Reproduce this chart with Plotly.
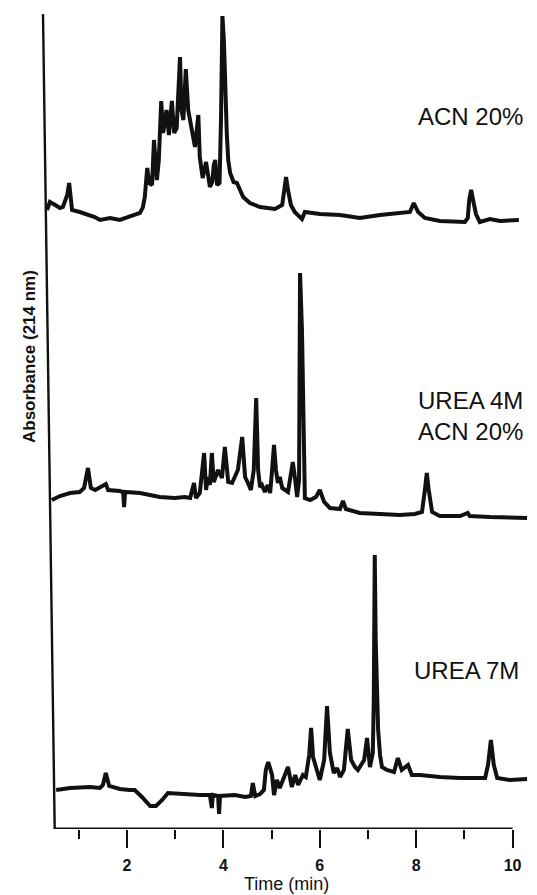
import plotly.graph_objects as go

# ---------------- data (retention time in min, absorbance in arbitrary units) -------------
t_acn = [0.34, 0.40, 0.51, 0.61, 0.67, 0.76, 0.80, 0.86, 1.02, 1.33, 1.44, 1.65, 1.85, 2.12, 2.27,
         2.33, 2.37, 2.42, 2.46, 2.52, 2.56, 2.62, 2.66, 2.71, 2.75, 2.79, 2.82, 2.87, 2.93, 2.98,
         3.03, 3.10, 3.13, 3.17, 3.22, 3.27, 3.34, 3.41, 3.48, 3.51, 3.57, 3.64, 3.72, 3.77, 3.80,
         3.83, 3.87, 3.92, 3.95, 3.98, 4.01, 4.03, 4.07, 4.10, 4.14, 4.21, 4.28, 4.41, 4.55, 4.76,
         4.97, 5.07, 5.22, 5.26, 5.30, 5.34, 5.40, 5.48, 5.63, 5.69, 6.00, 6.42, 6.83, 7.25, 7.66,
         7.87, 7.95, 8.04, 8.18, 8.49, 9.01, 9.07, 9.10, 9.14, 9.18, 9.24, 9.32, 9.53, 9.74, 10.13]
a_acn = [0, 8, 5, 2, 3, 15, 27, 0, -2, -7, -10, -8, -10, -5, -3,
         3, 13, 42, 27, 25, 70, 30, 50, 109, 77, 90, 100, 75, 109, 77,
         82, 153, 100, 90, 141, 100, 83, 63, 95, 53, 32, 48, 23, 28, 45,
         50, 25, 27, 90, 194, 170, 127, 77, 50, 37, 28, 27, 13, 7, 3,
         2, 1, 5, 20, 33, 20, 5, -2, -9, -2, -4, -5, -8, -5, -3,
         -2, 7, -2, -8, -11, -12, -8, 10, 20, 10, -4, -12, -9, -11, -10]

t_urea4 = [0.44, 0.61, 0.82, 1.02, 1.11, 1.19, 1.25, 1.34, 1.56, 1.61, 1.85, 1.92, 1.94, 1.96, 2.27,
           2.68, 2.99, 3.20, 3.31, 3.39, 3.43, 3.51, 3.60, 3.64, 3.68, 3.72, 3.76, 3.80, 3.89, 3.97,
           4.03, 4.10, 4.18, 4.30, 4.39, 4.45, 4.51, 4.57, 4.63, 4.68, 4.72, 4.76, 4.80, 4.86, 4.92,
           4.97, 5.01, 5.05, 5.09, 5.13, 5.17, 5.22, 5.34, 5.40, 5.44, 5.49, 5.53, 5.57, 5.59, 5.63,
           5.65, 5.67, 5.69, 5.80, 5.92, 6.00, 6.09, 6.21, 6.42, 6.48, 6.54, 6.83, 7.25, 7.66, 7.97,
           8.12, 8.18, 8.22, 8.26, 8.33, 8.49, 8.91, 9.07, 9.11, 9.53, 9.94, 10.30]
a_urea4 = [0, 4, 7, 8, 12, 32, 12, 10, 16, 10, 9, 8, -7, 8, 7,
           3, 2, 3, 2, 17, 2, 7, 47, 10, 23, 15, 47, 18, 30, 22,
           53, 18, 17, 30, 63, 23, 17, 10, 30, 102, 30, 13, 15, 8, 15,
           7, 30, 55, 30, 17, 23, 12, 8, 25, 38, 20, 3, 20, 227, 170,
           107, 30, 2, 0, 3, 10, -2, -8, -9, -1, -9, -13, -14, -15, -14,
           -12, 10, 27, 10, -12, -16, -16, -13, -16, -17, -18, -18]

t_urea7 = [0.53, 0.82, 1.23, 1.44, 1.50, 1.56, 1.63, 1.85, 2.06, 2.16, 2.31, 2.48, 2.60, 2.73, 2.85,
           3.10, 3.51, 3.72, 3.76, 3.78, 3.89, 3.91, 3.93, 4.24, 4.45, 4.57, 4.61, 4.66, 4.76, 4.84,
           4.88, 4.93, 5.01, 5.05, 5.11, 5.17, 5.28, 5.34, 5.42, 5.49, 5.55, 5.65, 5.71, 5.78, 5.82,
           5.86, 5.92, 6.00, 6.09, 6.15, 6.21, 6.29, 6.36, 6.42, 6.50, 6.54, 6.58, 6.65, 6.73, 6.79,
           6.92, 6.98, 7.04, 7.10, 7.12, 7.14, 7.16, 7.21, 7.25, 7.29, 7.39, 7.54, 7.62, 7.70, 7.77,
           7.83, 7.91, 8.08, 8.49, 8.91, 9.43, 9.49, 9.55, 9.61, 9.68, 9.94, 10.30]
a_urea7 = [0, 2, 3, 2, 5, 17, 4, 1, 0, 0, -7, -16, -16, -10, -3,
           -4, -5, -5, -18, -5, -6, -24, -6, -5, -7, -6, 7, -6, -4, 0,
           20, 28, 15, -5, 10, 2, 15, 23, 3, 15, 5, 15, 13, 35, 62,
           33, 23, 10, 30, 84, 37, 17, 22, 13, 20, 40, 61, 30, 23, 20,
           30, 52, 23, 37, 90, 235, 150, 60, 35, 23, 20, 18, 32, 20, 23,
           25, 15, 15, 13, 12, 12, 25, 50, 25, 12, 10, 11]

series_names = ["ACN 20%", "UREA 4M<br>ACN 20%", "UREA 7M"]
major_ticks = [2, 4, 6, 8, 10]
major_labels = ["2", "4", "6", "8", "10"]
minor_ticks = [1, 3, 5, 7, 9]

# ---------------- layout geometry -------------
W, H = 537, 895
L, R, T, B = 40, 7, 14, 66
PW, PH = W - L - R, H - T - B
PX_PER_MIN = 48.2
X0_PX = 30.6  # pixel of t = 0
x_range = [(L - X0_PX) / PX_PER_MIN, (W - R - X0_PX) / PX_PER_MIN]
y_range = [0, PH]
offsets = [619, 329, 39]


def xp(px):
    return (px - L) / PW


def yp(py):
    return 1 - (py - T) / PH


fig = go.Figure()
for tt, aa, off, nm in zip([t_acn, t_urea4, t_urea7], [a_acn, a_urea4, a_urea7], offsets, series_names):
    fig.add_trace(go.Scatter(x=tt, y=[v + off for v in aa], mode="lines",
                             line=dict(color="#111111", width=4), name=nm,
                             showlegend=False, hoverinfo="skip"))

# invisible trace so the minor-tick overlay axis is drawn
fig.add_trace(go.Scatter(x=[x_range[0]], y=[0], xaxis="x2", mode="lines",
                         line=dict(width=0), showlegend=False, hoverinfo="skip"))

sans = "Liberation Sans, Arial, sans-serif"

# axis lines (as in the scanned figure: bottom axis 0.5-10, slightly slanted left line)
fig.add_shape(type="line", xref="x", yref="y", x0=0.5, x1=10, y0=0, y1=0,
              line=dict(color="#111111", width=3))
fig.add_shape(type="line", xref="x", yref="y", x0=(43 - X0_PX) / PX_PER_MIN, x1=0.5,
              y0=PH, y1=0, line=dict(color="#111111", width=2.4))

labels = [("ACN 20%", 525, 117), ("UREA 4M<br>ACN 20%", 525, 416), ("UREA 7M", 521, 670)]
for txt, px, py in labels:
    fig.add_annotation(x=xp(px), y=yp(py), xref="paper", yref="paper", text=txt,
                       showarrow=False, xanchor="right", yanchor="middle", align="left",
                       font=dict(family=sans, size=24, color="#111111"))

fig.add_annotation(x=xp(286), y=yp(884), xref="paper", yref="paper", text="Time (min)",
                   showarrow=False, xanchor="center", yanchor="middle",
                   font=dict(family=sans, size=18, color="#111111"))
fig.add_annotation(x=xp(29), y=yp(357), xref="paper", yref="paper", text="Absorbance (214 nm)",
                   showarrow=False, textangle=-90, xanchor="center", yanchor="middle",
                   font=dict(family=sans, size=17, color="#111111", weight="bold"))

fig.update_layout(
    width=W, height=H, margin=dict(l=L, r=R, t=T, b=B),
    paper_bgcolor="white", plot_bgcolor="white",
    xaxis=dict(range=x_range, showline=False, showgrid=False, zeroline=False,
               tickmode="array", tickvals=major_ticks, ticktext=major_labels,
               ticks="outside", ticklen=18, tickwidth=2, tickcolor="#111111",
               ticklabelstandoff=4,
               tickfont=dict(family=sans, size=16, color="#111111", weight="bold")),
    xaxis2=dict(range=x_range, overlaying="x", anchor="y", side="bottom",
                showline=False, showgrid=False, zeroline=False, showticklabels=False,
                tickmode="array", tickvals=minor_ticks, ticks="outside", ticklen=9,
                tickwidth=2, tickcolor="#111111"),
    yaxis=dict(range=y_range, showline=False, showgrid=False, zeroline=False,
               showticklabels=False, ticks=""),
)

fig.write_html("out.html")
